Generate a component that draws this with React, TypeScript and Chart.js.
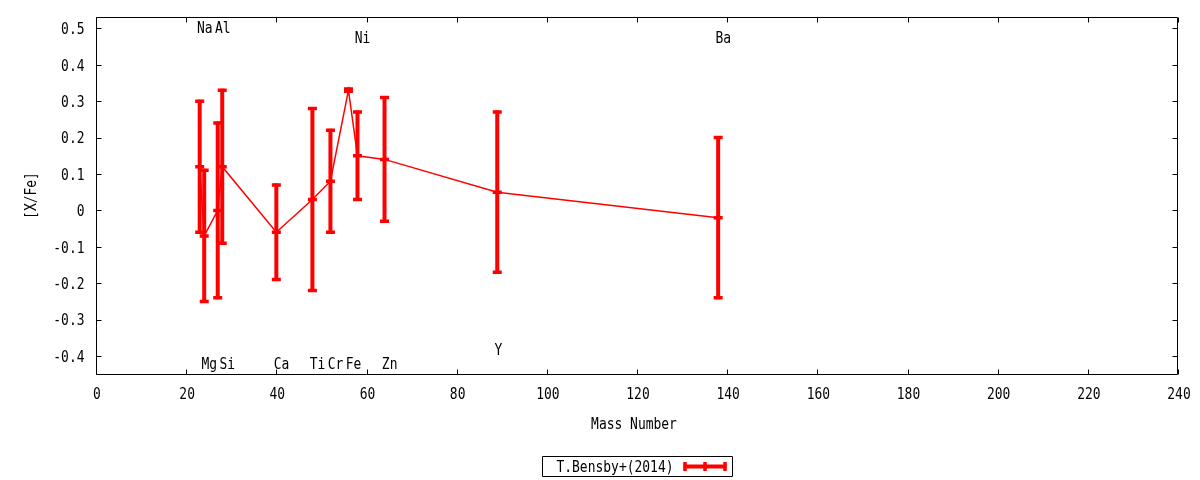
import React, { useEffect, useRef } from "react";
import { Chart, registerables } from "chart.js";

Chart.register(...registerables);

const elements = ["Na", "Mg", "Al", "Si", "Ca", "Ti", "Cr", "Fe", "Ni", "Zn", "Y", "Ba"];
const massNumbers = [23, 24, 27, 28, 40, 48, 52, 56, 58, 64, 89, 138];
const xFeValues = [0.12, -0.07, 0.0, 0.12, -0.06, 0.03, 0.08, 0.33, 0.15, 0.14, 0.05, -0.02];
const xFeErrors = [0.18, 0.18, 0.24, 0.21, 0.13, 0.25, 0.14, 0.003, 0.12, 0.17, 0.22, 0.22];
const labelYValues = [0.503, -0.42, 0.503, -0.42, -0.42, -0.42, -0.42, -0.42, 0.475, -0.42, -0.38, 0.475];
const xTickValues = [0, 20, 40, 60, 80, 100, 120, 140, 160, 180, 200, 220, 240];
const yTickValues = [-0.4, -0.3, -0.2, -0.1, 0, 0.1, 0.2, 0.3, 0.4, 0.5];
const seriesName = "T.Bensby+(2014)";
const xTitle = "Mass Number";
const yTitle = "[X/Fe]";

const FONT_SIZE = 16;
const FONT = `${FONT_SIZE}px 'DejaVu Sans Mono', monospace`;
const SX = 0.81; // horizontal squeeze of glyphs
const CAP_MID = FONT_SIZE * 0.365; // baseline offset to put cap-height centre on y
const RED = "#ff0000";

function fmtY(v: number) {
  return String(Math.round(v * 10) / 10);
}

function drawText(ctx: CanvasRenderingContext2D, text: string, x: number, y: number, align: CanvasTextAlign, rotate = false) {
  ctx.save();
  ctx.translate(x, y);
  if (rotate) ctx.rotate(-Math.PI / 2);
  ctx.scale(SX, 1);
  ctx.font = FONT;
  ctx.fillStyle = "#000";
  ctx.textAlign = align;
  ctx.textBaseline = "alphabetic";
  ctx.fillText(text, 0, CAP_MID);
  ctx.restore();
}

const gnuplotPlugin = {
  id: "gnuplotStyle",
  afterDatasetsDraw(chart: any) {
    const { ctx } = chart;
    const xs = chart.scales.x;
    const ys = chart.scales.y;
    ctx.save();
    ctx.strokeStyle = RED;
    ctx.lineCap = "butt";
    for (let i = 0; i < massNumbers.length; i++) {
      const px = xs.getPixelForValue(massNumbers[i]);
      const pTop = ys.getPixelForValue(xFeValues[i] + xFeErrors[i]);
      const pBot = ys.getPixelForValue(xFeValues[i] - xFeErrors[i]);
      const pMid = ys.getPixelForValue(xFeValues[i]);
      ctx.lineWidth = 4;
      ctx.beginPath();
      ctx.moveTo(px, pTop - 1.5);
      ctx.lineTo(px, pBot + 1.5);
      ctx.stroke();
      ctx.lineWidth = 3.5;
      ctx.beginPath();
      for (const py of [pTop, pBot, pMid]) {
        ctx.moveTo(px - 4.5, py);
        ctx.lineTo(px + 4.5, py);
      }
      ctx.stroke();
    }
    ctx.restore();
    for (let i = 0; i < elements.length; i++) {
      const px = xs.getPixelForValue(massNumbers[i] - 0.6);
      const py = ys.getPixelForValue(labelYValues[i]);
      drawText(ctx, elements[i], px, py, "left");
    }
  },
  afterDraw(chart: any) {
    const { ctx, chartArea } = chart;
    const xs = chart.scales.x;
    const ys = chart.scales.y;
    const L = Math.round(chartArea.left) + 0.5;
    const R = Math.round(chartArea.right) - 0.5;
    const T = Math.round(chartArea.top) + 0.5;
    const B = Math.round(chartArea.bottom) - 0.5;
    ctx.save();
    ctx.strokeStyle = "#000";
    ctx.lineWidth = 1;
    ctx.beginPath();
    ctx.rect(L, T, R - L, B - T);
    const tl = 5;
    for (const v of xTickValues) {
      const px = Math.round(xs.getPixelForValue(v)) + 0.5;
      ctx.moveTo(px, B);
      ctx.lineTo(px, B - tl);
      ctx.moveTo(px, T);
      ctx.lineTo(px, T + tl);
    }
    for (const v of yTickValues) {
      const py = Math.round(ys.getPixelForValue(v)) + 0.5;
      ctx.moveTo(L, py);
      ctx.lineTo(L + tl, py);
      ctx.moveTo(R, py);
      ctx.lineTo(R - tl, py);
    }
    ctx.stroke();
    ctx.restore();

    // tick labels
    for (const v of xTickValues) {
      drawText(ctx, String(v), xs.getPixelForValue(v) + 1, chartArea.bottom + 18.5, "center");
    }
    for (const v of yTickValues) {
      drawText(ctx, fmtY(v), chartArea.left - 11.5, ys.getPixelForValue(v), "right");
    }
    // axis titles
    const cx = (chartArea.left + chartArea.right) / 2;
    drawText(ctx, xTitle, cx - 3, chartArea.bottom + 48.5, "center");
    drawText(ctx, yTitle, 30.5, (chartArea.top + chartArea.bottom) / 2 - 0.5, "center", true);

    // legend
    const boxW = 190;
    const boxH = 20;
    const bx = Math.round(cx - boxW / 2) + 0.5;
    const by = 456.5;
    ctx.save();
    ctx.strokeStyle = "#000";
    ctx.lineWidth = 1;
    ctx.beginPath();
    ctx.rect(bx, by, boxW, boxH);
    ctx.stroke();
    const midY = by + boxH / 2;
    ctx.restore();
    drawText(ctx, seriesName, bx + 131, midY, "right");
    const s0 = bx + 141;
    const s1 = bx + 184;
    ctx.save();
    ctx.strokeStyle = RED;
    ctx.lineWidth = 4;
    ctx.beginPath();
    ctx.moveTo(s0, midY);
    ctx.lineTo(s1, midY);
    ctx.stroke();
    ctx.lineWidth = 3.5;
    ctx.beginPath();
    for (const sx of [s0 + 1.5, (s0 + s1) / 2, s1 - 1.5]) {
      ctx.moveTo(sx, midY - 4.5);
      ctx.lineTo(sx, midY + 4.5);
    }
    ctx.stroke();
    ctx.restore();
  },
};

export default function App() {
  const canvasRef = useRef<HTMLCanvasElement | null>(null);

  useEffect(() => {
    if (!canvasRef.current) return;
    const points = massNumbers.map((m, i) => ({ x: m, y: xFeValues[i] }));
    const chart = new Chart(canvasRef.current, {
      type: "line",
      data: {
        datasets: [
          {
            label: seriesName,
            data: points,
            borderColor: RED,
            backgroundColor: RED,
            borderWidth: 1.5,
            pointRadius: 0,
            tension: 0,
            fill: false,
          },
        ],
      },
      options: {
        responsive: false,
        animation: false,
        devicePixelRatio: 1,
        layout: { padding: { left: 0, right: 22, top: 17, bottom: 0 } },
        plugins: {
          legend: { display: false },
          tooltip: { enabled: false },
        },
        scales: {
          x: {
            type: "linear",
            min: 0,
            max: 240,
            afterBuildTicks: (scale: any) => {
              scale.ticks = xTickValues.map((v) => ({ value: v }));
            },
            afterFit: (scale: any) => {
              scale.height = 105;
              scale.paddingLeft = 0;
              scale.paddingRight = 0;
            },
            grid: { display: false, drawTicks: false, tickLength: 0 },
            border: { display: false },
            ticks: { display: false },
            title: { display: false },
          },
          y: {
            type: "linear",
            min: -0.452,
            max: 0.531,
            afterBuildTicks: (scale: any) => {
              scale.ticks = yTickValues.map((v) => ({ value: v }));
            },
            afterFit: (scale: any) => {
              scale.width = 96;
              scale.paddingTop = 0;
              scale.paddingBottom = 0;
            },
            grid: { display: false, drawTicks: false, tickLength: 0 },
            border: { display: false },
            ticks: { display: false },
            title: { display: false },
          },
        },
      },
      plugins: [gnuplotPlugin],
    });
    return () => chart.destroy();
  }, []);

  return (
    <div style={{ position: "absolute", left: 0, top: 0, width: 1200, height: 480, background: "#fff" }}>
      <canvas ref={canvasRef} width={1200} height={480} style={{ display: "block", width: 1200, height: 480 }} />
    </div>
  );
}
